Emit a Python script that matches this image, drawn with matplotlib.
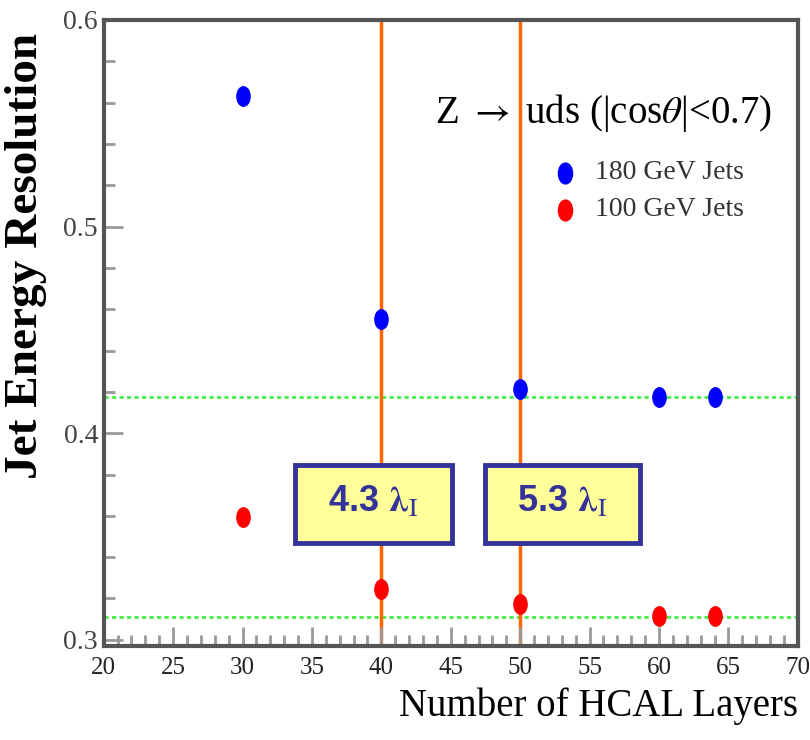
import matplotlib.pyplot as plt
from matplotlib.ticker import MultipleLocator
from matplotlib.patches import Rectangle
from matplotlib.path import Path
from matplotlib.transforms import Affine2D
import numpy as np

plt.rcParams['font.family'] = ['Liberation Serif', 'DejaVu Serif']
plt.rcParams['mathtext.fontset'] = 'stix'

# data
layers = [30, 40, 50, 60, 64]
res_180 = [0.563, 0.4555, 0.4215, 0.4175, 0.4175]
err_180 = [0.004, 0.003, 0.003, 0.004, 0.004]
res_100 = [0.3595, 0.3245, 0.3175, 0.3115, 0.3115]
err_100 = [0.003, 0.003, 0.003, 0.002, 0.002]
ref_lines = [0.4175, 0.3112]
depth_layers = [40, 50]
depth_labels = [r'4.3 $\mathbf{\lambda_\mathrm{I}}$', r'5.3 $\mathbf{\lambda_\mathrm{I}}$']
box_x = [(33.8, 45.1), (47.5, 58.6)]
box_y = (0.347, 0.3845)

# tall ellipse marker like the original
ell = Path.unit_circle().transformed(Affine2D().scale(0.68, 1.0))

fig = plt.figure(figsize=(8.1, 7.4), dpi=100)
ax = fig.add_axes([0.128, 0.127, 0.857, 0.846])

for y in ref_lines:
    ax.axhline(y, color='#44ee44', ls=(0, (1.5, 1.2)), lw=2, zorder=1)
for x in depth_layers:
    ax.axvline(x, color='#ff6600', lw=2.5, zorder=1)

ax.errorbar(layers, res_180, yerr=err_180, fmt='none', ecolor='#0000ff',
            elinewidth=1.5, capsize=0, zorder=3)
ax.plot(layers, res_180, ls='none', marker=ell, color='#0000ff', ms=14, zorder=3)
ax.errorbar(layers, res_100, yerr=err_100, fmt='none', ecolor='#ff0000',
            elinewidth=1.5, capsize=0, zorder=3)
ax.plot(layers, res_100, ls='none', marker=ell, color='#ff0000', ms=14, zorder=3)

ax.set_xlim(20, 70)
ax.set_ylim(0.297, 0.6)
ax.xaxis.set_major_locator(MultipleLocator(5))
ax.xaxis.set_minor_locator(MultipleLocator(1))
ax.yaxis.set_major_locator(MultipleLocator(0.1))
ax.yaxis.set_minor_locator(MultipleLocator(0.02))
ax.tick_params(which='both', direction='in', top=False, right=False,
               color='#999999', labelcolor='#444444', labelsize=20, width=2)
ax.tick_params(which='major', length=14)
ax.tick_params(which='minor', length=8)
ax.tick_params(axis='x', pad=8, labelsize=18, labelcolor='#222222')
ax.tick_params(axis='y', pad=4)
for s in ax.spines.values():
    s.set_color('#555555')
    s.set_linewidth(3)

ax.set_xlabel('Number of HCAL Layers', fontsize=28, ha='right', x=1.0, labelpad=6)
ax.set_ylabel('Jet Energy Resolution', fontsize=34, fontweight='bold', ha='right', y=0.98,
              labelpad=12)

ax.text(0.963, 0.852, r'Z $\rightarrow$ uds (|cos$\theta$|<0.7)', transform=ax.transAxes,
        fontsize=28, ha='right', va='center')
ax.plot([0.665], [0.756], marker=ell, color='#0000ff', ms=15, transform=ax.transAxes)
ax.plot([0.665], [0.697], marker=ell, color='#ff0000', ms=15, transform=ax.transAxes)
ax.text(0.708, 0.756, '180 GeV Jets', transform=ax.transAxes, fontsize=20,
        va='center', color='#333333')
ax.text(0.708, 0.697, '100 GeV Jets', transform=ax.transAxes, fontsize=20,
        va='center', color='#333333')

for (x0, x1), lab in zip(box_x, depth_labels):
    ax.add_patch(Rectangle((x0, box_y[0]), x1 - x0, box_y[1] - box_y[0], fc='#ffff99',
                           ec='#333399', lw=3.5, zorder=4))
    ax.text((x0 + x1) / 2, sum(box_y) / 2 + 0.001, lab, fontsize=26, color='#333399',
            fontweight='bold', ha='center', va='center', zorder=5,
            family=['Liberation Sans', 'DejaVu Sans'])

fig.savefig('out.png', dpi=100)
